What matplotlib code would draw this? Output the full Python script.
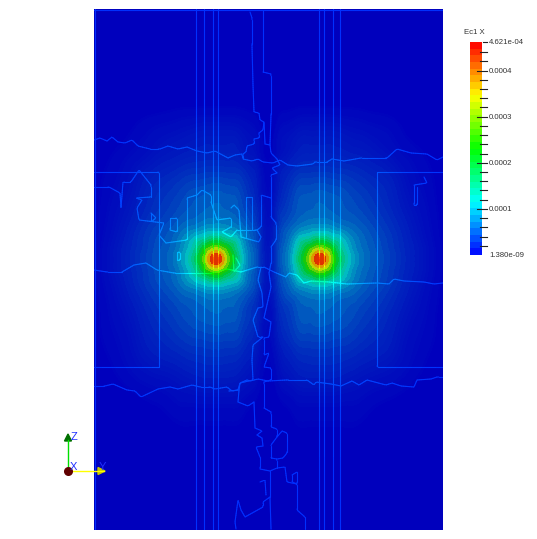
import matplotlib
matplotlib.use("Agg")
import matplotlib.pyplot as plt
import matplotlib.tri as mtri
import numpy as np
from matplotlib.collections import LineCollection
from matplotlib.colors import LinearSegmentedColormap

plt.rcParams['font.family'] = ['Liberation Sans', 'DejaVu Sans']

# field samples, in units of 1e-5, left half only (mirrored at x=268)
grid_x = [94, 103, 120, 140, 160, 180, 195, 205, 211, 216, 221, 227, 237, 250, 260, 268]
grid_y = [9, 95, 120, 145, 175, 205, 228, 242, 250, 255, 259, 263, 268, 276, 290, 312, 345, 385, 420, 530]
field_rows = [
    [.03, .03, .03, .03, .03, .03, .03, .03, .03, .03, .03, .03, .03, .03, .03, .03],
    [.05, .05, .06, .08, .1, .12, .12, .12, .12, .12, .12, .12, .12, .1, .08, .05],
    [.05, .05, .1, .3, .45, .6, .7, .75, .75, .75, .75, .75, .7, .5, .25, .1],
    [.05, .12, .3, .6, 1, 1.3, 1.5, 1.6, 1.6, 1.6, 1.6, 1.6, 1.5, 1, .5, .2],
    [.15, .3, .6, 1.3, 2, 2.6, 3, 3.1, 3.2, 3.2, 3.2, 3.1, 3, 2, 1, .45],
    [.2, .4, .9, 1.8, 2.9, 4, 4.8, 5.2, 5.4, 5.5, 5.4, 5.2, 4.8, 3, 1.5, .7],
    [.25, .5, 1.2, 2.4, 3.8, 5.6, 7, 8, 8.5, 8.5, 8.5, 8, 7, 4.6, 2.2, 1],
    [.27, .6, 1.4, 2.7, 4.4, 7, 12, 16, 19, 20, 19, 16, 12, 5.6, 2.6, 1.1],
    [.3, .65, 1.5, 2.8, 4.6, 7.5, 14, 24, 30, 33, 30, 24, 14, 6.2, 2.8, 1.2],
    [.3, .65, 1.5, 2.9, 4.7, 8, 15.5, 27, 38, 42, 38, 27, 15.5, 6.4, 2.9, 1.3],
    [.3, .65, 1.5, 2.9, 4.7, 8, 16, 29, 40, 46, 40, 29, 16, 6.4, 2.9, 1.3],
    [.3, .65, 1.5, 2.9, 4.7, 8, 15.5, 27, 38, 42, 38, 27, 15.5, 6.4, 2.9, 1.3],
    [.3, .65, 1.5, 2.8, 4.6, 7.5, 14, 24, 30, 33, 30, 24, 14, 6.2, 2.8, 1.2],
    [.27, .6, 1.4, 2.7, 4.4, 7, 12, 16, 19, 20, 19, 16, 12, 5.6, 2.6, 1.1],
    [.25, .5, 1.2, 2.4, 3.8, 5.6, 7, 8, 8.5, 8.5, 8.5, 8, 7, 4.6, 2.2, 1],
    [.2, .4, .9, 1.8, 2.9, 4, 4.8, 5.2, 5.4, 5.5, 5.4, 5.2, 4.8, 3, 1.5, .7],
    [.15, .3, .6, 1.3, 2, 2.6, 3, 3.1, 3.2, 3.2, 3.2, 3.1, 3, 2, 1, .45],
    [.05, .1, .25, .5, .7, 1, 1.2, 1.3, 1.3, 1.3, 1.3, 1.3, 1.2, .8, .35, .15],
    [.05, .05, .06, .12, .2, .35, .35, .35, .35, .35, .35, .35, .35, .2, .1, .05],
    [.03, .03, .03, .03, .03, .03, .03, .03, .03, .03, .03, .03, .03, .03, .03, .03],
]

# straight edges of the mesh
vertical_x = [196, 204, 213, 218, 319, 324, 333, 340]
rect_left = [(94, 172), (159, 172), (159, 367), (94, 367)]
rect_right = [(443, 172), (377, 172), (377, 367), (443, 367)]

# jagged contour lines
wave_top = [(94, 140), (100, 138), (107, 141), (112, 137), (118, 142), (125, 143), (132, 140), (138, 146),
            (150, 149), (160, 149), (168, 146), (178, 149), (187, 147), (197, 151), (207, 153), (215, 151),
            (228, 158), (235, 155), (242, 154), (243, 159), (252, 161), (258, 159), (263, 162), (273, 163),
            (280, 160), (288, 165), (297, 166), (313, 164), (315, 162), (327, 162), (332, 159), (344, 161),
            (361, 158), (387, 158), (397, 149), (411, 153), (427, 154), (437, 160), (443, 157)]
wave_mid = [(94, 270), (107, 272), (122, 272), (134, 265), (146, 263), (157, 270), (174, 273), (191, 273),
            (212, 273), (227, 269), (241, 272), (257, 267), (264, 267), (274, 272), (286, 277), (289, 273),
            (297, 275), (304, 283), (311, 281), (329, 282), (347, 284), (377, 283), (389, 284), (394, 279),
            (404, 281), (424, 282), (434, 284), (443, 283)]
wave_low = [(94, 386), (105, 386), (113, 384), (127, 390), (135, 391), (141, 397), (158, 389), (170, 387),
            (178, 389), (192, 385), (200, 387), (210, 387), (215, 389), (227, 387), (232, 391), (238, 390),
            (240, 383), (247, 380), (250, 381), (258, 379), (268, 381), (287, 380), (307, 380), (314, 385),
            (316, 382), (331, 384), (341, 386), (352, 381), (359, 385), (367, 380), (386, 385), (392, 383),
            (401, 386), (414, 387), (417, 380), (431, 379), (437, 377), (443, 377)]
strand_a = [(250, 12), (252, 18), (252, 45), (253, 85), (254, 112), (259, 113), (260, 120), (264, 122),
            (263, 130), (259, 133), (259, 138), (254, 139), (254, 144), (247, 146), (246, 152), (243, 154), (243, 158)]
strand_b = [(263, 10), (263, 72), (271, 74), (271, 115), (270, 145), (271, 153), (277, 159), (280, 165),
            (272, 168), (277, 173), (271, 175), (271, 217), (276, 223), (276, 240), (271, 247), (271, 263)]
strand_c = [(264, 122), (265, 144), (270, 145)]
strand_d = [(261, 267), (258, 280), (262, 293), (263, 307), (258, 308), (253, 320), (258, 337), (263, 337),
            (253, 345), (252, 360), (253, 380), (240, 383), (239, 390), (229, 391)]
strand_e = [(271, 263), (269, 273), (271, 287), (264, 318), (271, 322), (269, 337), (264, 338), (264, 355),
            (269, 353), (264, 367), (271, 368), (271, 380), (264, 382), (264, 408), (271, 412), (271, 427),
            (277, 429), (277, 437), (271, 445), (271, 458), (277, 459), (277, 468)]
strand_f = [(239, 390), (238, 402), (248, 406), (254, 402), (255, 428), (262, 431), (257, 435), (262, 438),
            (263, 446), (256, 447), (260, 457), (260, 469), (270, 471), (277, 468), (285, 467), (287, 482),
            (297, 484), (297, 510), (305, 517), (305, 529)]
loop_a = [(277, 437), (282, 431), (287, 433), (287, 453), (283, 458), (277, 459)]
strand_g = [(270, 471), (270, 497), (271, 529)]
strand_h = [(270, 497), (263, 502), (263, 507), (245, 517), (241, 510), (238, 500), (235, 522), (236, 529)]
strand_i = [(260, 482), (265, 480), (266, 495)]
loop_b = [(292, 475), (297, 472), (297, 484), (292, 482), (292, 475)]
ragged = [(94, 187), (109, 187), (120, 193), (121, 208), (123, 182), (131, 182), (139, 170), (151, 185),
          (151, 197), (136, 198), (142, 200), (137, 208), (139, 220), (164, 223), (159, 235), (166, 243),
          (187, 240), (187, 198), (197, 195), (202, 190), (211, 195), (211, 202), (217, 220), (231, 218),
          (231, 227), (222, 232), (231, 237), (237, 230), (257, 230), (261, 237), (259, 242), (241, 237),
          (239, 210), (234, 205), (231, 208)]
ragged_b = [(246, 237), (246, 197), (252, 197), (252, 230)]
ragged_c = [(257, 230), (261, 227), (261, 195), (271, 198)]
loop_c = [(170, 218), (177, 218), (177, 232), (170, 230), (170, 218)]
loop_d = [(151, 213), (151, 222), (156, 218), (151, 213)]
loop_e = [(177, 252), (180, 252), (180, 260), (177, 260), (177, 252)]
loop_f = [(233, 255), (234, 272), (240, 265), (236, 258)]
loop_g = [(424, 177), (427, 183), (414, 185), (414, 205), (417, 205), (417, 187)]

# colorbar
bar_min = 1.380e-09
bar_max = 4.621e-04
bar_title = 'Ec1 X'
major_ticks = [0.0001, 0.0002, 0.0003, 0.0004]
major_labels = ['0.0001', '0.0002', '0.0003', '0.0004']
minor_ticks = [.00002, .00004, .00006, .00008, .00012, .00014, .00016, .00018, .00022, .00024, .00026, .00028,
               .00032, .00034, .00036, .00038, .00042, .00044]
bar_bands = 32

# colormaps
bar_cmap = LinearSegmentedColormap.from_list('bar', [(0, 0, 1), (0, 1, 1), (0, 1, 0), (1, 1, 0), (1, 0, 0)])
field_cmap = LinearSegmentedColormap.from_list('field', [(0, 0, .74), (0, .76, .76), (0, .78, .05),
                                                         (.85, .85, 0), (.88, .1, 0)])

W, H = 537, 539
fig = plt.figure(figsize=(W / 100, H / 100), dpi=100)
fig.patch.set_facecolor('white')

# main view, data units are image pixels
ax = fig.add_axes([94 / W, 1 - 530 / H, (443 - 94) / W, (530 - 9) / H])
ax.set_xlim(94, 443)
ax.set_ylim(530, 9)
ax.set_facecolor(field_cmap(0.0))
ax.set_xticks([])
ax.set_yticks([])
for s in ax.spines.values():
    s.set_visible(False)

half_x = np.array(grid_x, float)
half = np.array(field_rows, float)
full_x = np.concatenate([half_x, 536 - half_x[-2::-1]])
full = np.hstack([half, half[:, -2::-1]])
X, Y = np.meshgrid(full_x, np.array(grid_y, float))
tri = mtri.Triangulation(X.ravel(), Y.ravel())
fine_tri, fine_z = mtri.UniformTriRefiner(tri).refine_field(np.log10(full.ravel()), subdiv=3)

levels = np.append(np.linspace(np.log10(0.3), np.log10(46), 34), np.log10(90))
mids = 10 ** ((levels[:-1] + levels[1:]) / 2)
band_colors = [field_cmap(min(m / 44.0, 1)) for m in mids]
ax.tricontourf(fine_tri, fine_z, levels=levels, colors=band_colors, antialiased=False)

lookup = mtri.LinearTriInterpolator(fine_tri, fine_z)


def edge_lines(points):
    pts = np.array(points, float)
    steps = np.hypot(*np.diff(pts, axis=0).T)
    s = np.concatenate([[0], np.cumsum(steps)])
    t = np.arange(0, s[-1] + 2, 2.0)
    px = np.interp(t, s, pts[:, 0])
    py = np.interp(t, s, pts[:, 1])
    vals = 10 ** np.ma.filled(lookup(px, py), -1.0)
    segs = np.stack([np.column_stack([px[:-1], py[:-1]]), np.column_stack([px[1:], py[1:]])], axis=1)
    cols = bar_cmap(np.clip((vals[:-1] * 0.9 + 2.2) / 46.0, 0, 1))
    return LineCollection(segs, colors=cols, linewidths=0.8, capstyle='round', zorder=3)


all_lines = [wave_top, wave_mid, wave_low, strand_a, strand_b, strand_c, strand_d, strand_e, strand_f, loop_a,
             strand_g, strand_h, strand_i, loop_b, ragged, ragged_b, ragged_c, loop_c, loop_d, loop_e, loop_f,
             loop_g, rect_left, rect_right]
for vx in vertical_x:
    all_lines.append([(vx, 9), (vx, 530)])
for line in all_lines:
    ax.add_collection(edge_lines(line))
ax.add_collection(edge_lines([(94, 9.5), (443, 9.5)]))
ax.add_collection(edge_lines([(94.5, 9), (94.5, 530)]))

# colorbar
cax = fig.add_axes([470 / W, 1 - 255 / H, 12 / W, 213 / H])
band_vals = (np.arange(bar_bands) + 0.5) / bar_bands
cax.imshow(band_vals[:, None], origin='lower', aspect='auto', cmap=bar_cmap, vmin=0, vmax=1,
           extent=[0, 1, bar_min, bar_max], interpolation='nearest')
for s in cax.spines.values():
    s.set_visible(False)
cax.set_xticks([])
cax.yaxis.tick_right()
cax.set_yticks(major_ticks + [bar_min, bar_max])
cax.set_yticklabels(major_labels + ['1.380e-09', '4.621e-04'], fontsize=5.6, color='#333333')
cax.tick_params(axis='y', length=0, pad=5)
for v in major_ticks:
    cax.plot([0.58, 1.42], [v, v], color='#222222', lw=0.8, clip_on=False)
for v in minor_ticks:
    cax.plot([0.83, 1.42], [v, v], color='#222222', lw=0.8, clip_on=False)
cax.plot([1.08, 1.42], [bar_max, bar_max], color='#222222', lw=0.8, clip_on=False)
cax.set_xlim(0, 1)
cax.set_ylim(bar_min, bar_max)
fig.text(474 / W, 1 - 32 / H, bar_title, fontsize=5.6, color='#333333', ha='center', va='center')

# orientation triad, overlay in pixel coordinates
tax = fig.add_axes([0, 0, 1, 1])
tax.set_xlim(0, W)
tax.set_ylim(H, 0)
tax.axis('off')
tax.plot([68, 68], [471, 440], color='#00e000', lw=1.0)
tax.plot([68, 104], [471, 471], color='#ffff00', lw=1.0)
tax.fill([64.5, 68, 71.5], [441, 434, 441], color='#007000')
tax.fill([98, 105, 98], [467.5, 471, 474.5], color='#c8c800')
tax.plot([68], [471], 'o', ms=6.5, color='#600000', mec='none')
tax.text(71, 437, 'Z', color='#2030ff', fontsize=8, ha='left', va='center')
tax.text(70, 467, 'X', color='#2030ff', fontsize=8, ha='left', va='center')
tax.text(99, 467, 'Y', color='#2030ff', fontsize=8, ha='left', va='center')

fig.savefig('out.png', dpi=100, facecolor='white')
